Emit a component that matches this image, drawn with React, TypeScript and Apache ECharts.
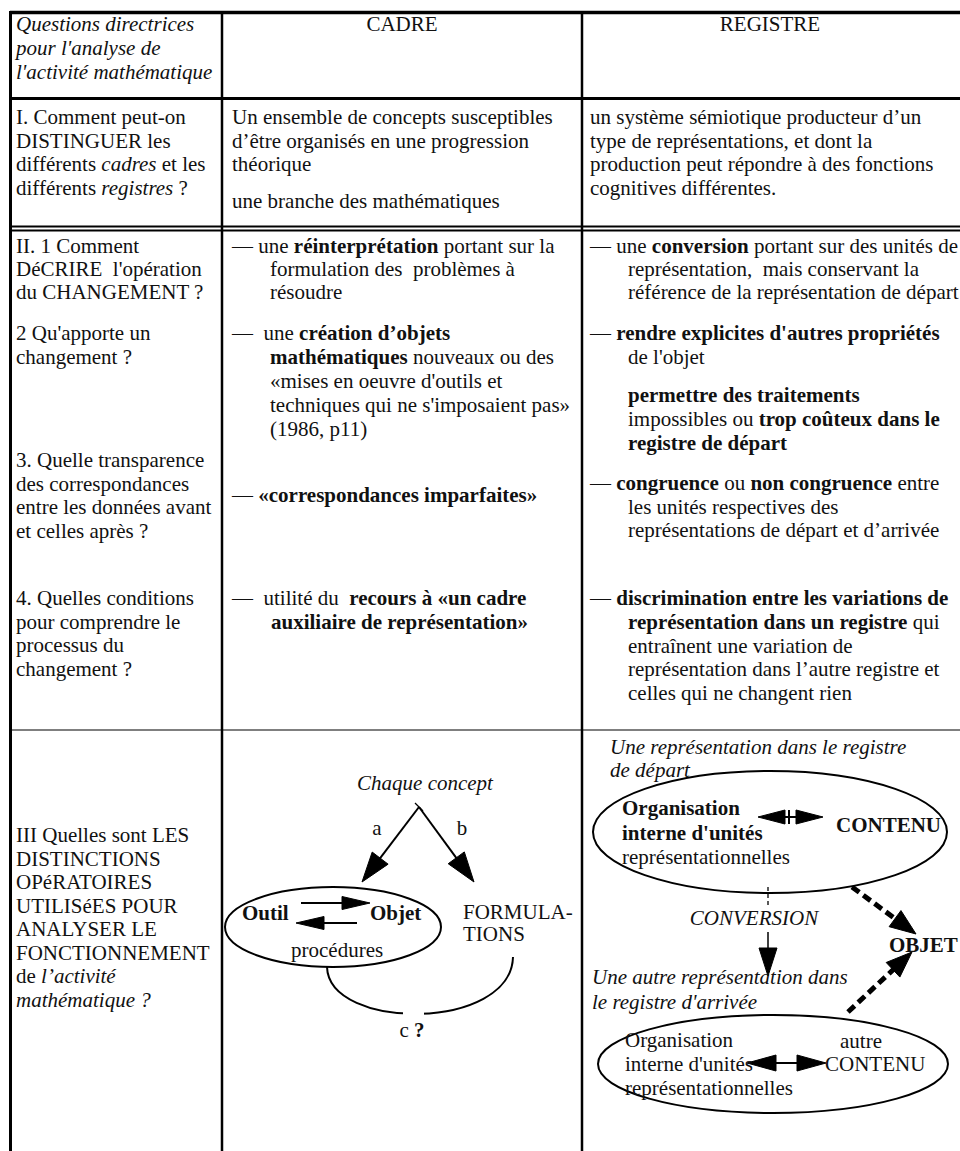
import React, { useEffect, useRef } from "react";
import * as echarts from "echarts";

type Seg = [string, string];

const FONT = '"Liberation Serif", "Times New Roman", serif';
const INK = "#111";
const FS = 21;

// ---------- texts ----------
const headerQuestion: string[] = ["Questions directrices", "pour l'analyse de", "l'activité mathématique"];
const columnTitles: string[] = ["CADRE", "REGISTRE"];

const rowIQuestion: Seg[][] = [
  [["n", "I. Comment peut-on"]],
  [["n", "DISTINGUER les"]],
  [["n", "différents "], ["i", "cadres"], ["n", " et les"]],
  [["n", "différents "], ["i", "registres"], ["n", " ?"]],
];
const rowICadre: string[] = [
  "Un ensemble de concepts susceptibles",
  "d’être organisés en une progression",
  "théorique",
  "une branche des mathématiques",
];
const rowIRegistre: string[] = [
  "un système sémiotique producteur d’un",
  "type de représentations, et dont la",
  "production peut répondre à des fonctions",
  "cognitives différentes.",
];

const rowIIQuestion: string[] = [
  "II. 1 Comment",
  "DéCRIRE  l'opération",
  "du CHANGEMENT ?",
  "2 Qu'apporte un",
  "changement ?",
  "3. Quelle transparence",
  "des correspondances",
  "entre les données avant",
  "et celles après ?",
  "4. Quelles conditions",
  "pour comprendre le",
  "processus du",
  "changement ?",
];
const rowIICadre: Seg[][] = [
  [["n", "— une "], ["b", "réinterprétation"], ["n", " portant sur la"]],
  [["n", "formulation des  problèmes à"]],
  [["n", "résoudre"]],
  [["n", "—  une "], ["b", "création d’objets"]],
  [["b", "mathématiques"], ["n", " nouveaux ou des"]],
  [["n", "«mises en oeuvre d'outils et"]],
  [["n", "techniques qui ne s'imposaient pas»"]],
  [["n", "(1986, p11)"]],
  [["n", "— "], ["b", "«correspondances imparfaites»"]],
  [["n", "—  utilité du  "], ["b", "recours à «un cadre"]],
  [["b", "auxiliaire de représentation»"]],
];
const rowIIRegistre: Seg[][] = [
  [["n", "— une "], ["b", "conversion"], ["n", " portant sur des unités de"]],
  [["n", "représentation,  mais conservant la"]],
  [["n", "référence de la représentation de départ"]],
  [["n", "— "], ["b", "rendre explicites d'autres propriétés"]],
  [["n", "de l'objet"]],
  [["b", "permettre des traitements"]],
  [["n", "impossibles ou "], ["b", "trop coûteux dans le"]],
  [["b", "registre de départ"]],
  [["n", "— "], ["b", "congruence"], ["n", " ou "], ["b", "non congruence"], ["n", " entre"]],
  [["n", "les unités respectives des"]],
  [["n", "représentations de départ et d’arrivée"]],
  [["n", "— "], ["b", "discrimination entre les variations de"]],
  [["b", "représentation dans un registre"], ["n", " qui"]],
  [["n", "entraînent une variation de"]],
  [["n", "représentation dans l’autre registre et"]],
  [["n", "celles qui ne changent rien"]],
];

const rowIIIQuestion: Seg[][] = [
  [["n", "III Quelles sont LES"]],
  [["n", "DISTINCTIONS"]],
  [["n", "OPéRATOIRES"]],
  [["n", "UTILISéES POUR"]],
  [["n", "ANALYSER LE"]],
  [["n", "FONCTIONNEMENT"]],
  [["n", "de "], ["i", "l’activité"]],
  [["i", "mathématique ?"]],
];

const cadreDiagram = {
  top: "Chaque concept",
  a: "a",
  b: "b",
  tool: "Outil",
  object: "Objet",
  procedures: "procédures",
  formulations: ["FORMULA-", "TIONS"],
  c: "c",
  q: "?",
};
const registreDiagram = {
  start: ["Une représentation dans le registre", "de départ"],
  org1: [[["b", "Organisation"]], [["b", "interne d'unités"]], [["n", "représentationnelles"]]] as Seg[][],
  content1: "CONTENU",
  conversion: "CONVERSION",
  object: "OBJET",
  arrival: ["Une autre représentation dans", "le registre d'arrivée"],
  org2: ["Organisation", "interne d'unités", "représentationnelles"],
  content2: ["autre", "CONTENU"],
};

// ---------- drawing helpers ----------
function richFor(lh: number) {
  return {
    n: { fontFamily: FONT, fontSize: FS, fill: INK, lineHeight: lh },
    b: { fontFamily: FONT, fontSize: FS, fill: INK, fontWeight: "bold", lineHeight: lh },
    i: { fontFamily: FONT, fontSize: FS, fill: INK, fontStyle: "italic", lineHeight: lh },
  };
}

const toRich = (segs: Seg[]) => segs.map(([s, t]) => `{${s}|${t}}`).join("");
const plain = (t: string, s = "n"): Seg[] => [[s, t]];

function txt(x: number, y: number, segs: Seg[], align = "left", lh = 22) {
  return {
    type: "text",
    x,
    y,
    z: 10,
    style: {
      text: toRich(segs),
      rich: richFor(lh),
      fontFamily: FONT,
      fontSize: FS,
      fill: INK,
      align,
      verticalAlign: "middle",
    },
  };
}

function block(x: number, ys: number[], lines: Seg[][], xs?: number[], lh = 22) {
  return lines.map((l, k) => txt(xs ? xs[k] : x, ys[k], l, "left", lh));
}

function line(x1: number, y1: number, x2: number, y2: number, lw = 2, stroke = "#000", dash?: number[]) {
  return {
    type: "line",
    z: 5,
    shape: { x1, y1, x2, y2 },
    style: { stroke, lineWidth: lw, lineDash: dash, fill: "none" },
  };
}

function head(x1: number, y1: number, x2: number, y2: number, len: number, half: number) {
  const dx = x2 - x1;
  const dy = y2 - y1;
  const d = Math.hypot(dx, dy);
  const ux = dx / d;
  const uy = dy / d;
  const bx = x2 - ux * len;
  const by = y2 - uy * len;
  return {
    type: "polygon",
    z: 6,
    shape: { points: [[x2, y2], [bx - uy * half, by + ux * half], [bx + uy * half, by - ux * half]] },
    style: { fill: "#000", stroke: "#000", lineWidth: 1 },
    base: [bx, by],
  };
}

function arrow(x1: number, y1: number, x2: number, y2: number, len: number, half: number, lw = 2, dash?: number[]) {
  const h: any = head(x1, y1, x2, y2, len, half);
  const [bx, by] = h.base;
  delete h.base;
  return [line(x1, y1, bx + (x2 - x1) * 0.02, by + (y2 - y1) * 0.02, lw, "#000", dash), h];
}

function dblArrow(x1: number, y: number, x2: number, len: number, half: number) {
  const h1: any = head(x2, y, x1, y, len, half);
  const h2: any = head(x1, y, x2, y, len, half);
  delete h1.base;
  delete h2.base;
  return [line(x1 + len - 2, y, x2 - len + 2, y, 2), h1, h2];
}

function ellipse(cx: number, cy: number, rx: number, ry: number) {
  return {
    type: "ellipse",
    z: 4,
    shape: { cx, cy, rx, ry },
    style: { fill: "none", stroke: "#000", lineWidth: 2 },
  };
}

function buildElements() {
  const els: any[] = [];
  // ----- table rules -----
  const H = 1151;
  els.push(line(10, 12.5, 960, 12.5, 3.5));
  els.push(line(10, 98.5, 960, 98.5, 3));
  els.push(line(10, 226.5, 960, 226.5, 1.8));
  els.push(line(10, 230.5, 960, 230.5, 1.8));
  els.push(line(10, 730, 960, 730, 1.6, "#555"));
  els.push(line(10.5, 11, 10.5, H, 3));
  els.push(line(222, 11, 222, H, 2.5));
  els.push(line(582, 11, 582, H, 2.5));

  // ----- header -----
  els.push(...block(16, [24, 48, 72], headerQuestion.map((t) => plain(t, "i"))));
  els.push(txt(402, 24, plain(columnTitles[0]), "center"));
  els.push(txt(770, 24, plain(columnTitles[1]), "center"));

  // ----- row I -----
  const r1 = [117, 140.5, 164, 187.5];
  els.push(...block(16, r1, rowIQuestion));
  els.push(...block(232, [117, 140.5, 164, 201], rowICadre.map((t) => plain(t))));
  els.push(...block(590, r1, rowIRegistre.map((t) => plain(t))));

  // ----- row II -----
  els.push(
    ...block(
      16,
      [246, 269, 292, 333, 357, 460, 483.5, 507, 531, 598, 621.5, 645, 668.5],
      rowIIQuestion.map((t) => plain(t))
    )
  );
  els.push(
    ...block(
      0,
      [246, 269, 292, 333, 357, 381, 405, 429, 495, 598, 622],
      rowIICadre,
      [232, 270, 270, 232, 270, 270, 270, 270, 232, 232, 271]
    )
  );
  els.push(
    ...block(
      0,
      [246, 269, 292, 333, 357, 395, 419, 443, 483, 506.5, 530, 598, 622, 645.5, 669, 692.5],
      rowIIRegistre,
      [590, 628, 628, 590, 628, 628, 628, 628, 590, 628, 628, 590, 628, 628, 628, 628]
    )
  );

  // ----- row III question -----
  els.push(...block(16, [835, 858.5, 882, 905.5, 929, 952.5, 976, 999.5], rowIIIQuestion));

  // ----- cadre diagram -----
  const cd = cadreDiagram;
  els.push(txt(425, 783, plain(cd.top, "i"), "center"));
  els.push(...arrow(419, 807, 362, 882, 30, 10, 2));
  els.push(...arrow(419, 807, 474, 882, 30, 10, 2));
  els.push(line(415, 803, 423, 811, 1.2));
  els.push(txt(377, 828, plain(cd.a), "center"));
  els.push(txt(462, 828, plain(cd.b), "center"));
  els.push(ellipse(333, 927, 108, 40));
  els.push(txt(242, 913, plain(cd.tool, "b")));
  els.push(txt(370, 913, plain(cd.object, "b")));
  els.push(...arrow(301, 903, 370, 903, 28, 6.5, 2));
  els.push(...arrow(357, 923, 296, 923, 28, 6.5, 2));
  els.push(txt(291, 950, plain(cd.procedures)));
  els.push(txt(463, 912, plain(cd.formulations[0]), "left", 19));
  els.push(txt(463, 934, plain(cd.formulations[1]), "left", 19));
  els.push({
    type: "bezierCurve",
    z: 4,
    shape: { x1: 327, y1: 967, cpx1: 329, cpy1: 1031, cpx2: 511, cpy2: 1031, x2: 513, y2: 957 },
    style: { fill: "none", stroke: "#000", lineWidth: 2 },
  });
  els.push({ type: "rect", z: 5, shape: { x: 403, y: 1006, width: 21, height: 14 }, style: { fill: "#fff" } });
  els.push(txt(412, 1030, [["n", cd.c + " "], ["b", cd.q]], "center"));

  // ----- registre diagram -----
  const rd = registreDiagram;
  els.push(...block(610, [747, 770], rd.start.map((t) => plain(t, "i"))));
  els.push(ellipse(770, 832, 177, 61));
  els.push(...block(622, [808, 833, 857], rd.org1));
  els.push(...dblArrow(758, 817, 823, 27, 7));
  els.push(line(789, 810, 789, 824, 2));
  els.push(txt(836, 825, plain(rd.content1, "b")));
  els.push(line(768, 887, 768, 906, 1.3, "#000", [4, 3]));
  els.push(txt(754, 918, plain(rd.conversion, "i"), "center"));
  els.push(...arrow(768, 932, 768, 976, 28, 9, 1.5));
  els.push(...arrow(852, 887, 916, 934, 26, 10, 5, [9, 5]));
  els.push(...arrow(848, 1012, 912, 952, 26, 10, 5, [9, 5]));
  els.push(txt(889, 945, plain(rd.object, "b")));
  els.push(...block(592, [977, 1002], rd.arrival.map((t) => plain(t, "i"))));
  els.push(ellipse(773, 1064, 175, 49));
  els.push(...block(625, [1040, 1063.5, 1088], rd.org2.map((t) => plain(t))));
  els.push(txt(861, 1041, plain(rd.content2[0]), "center", 19));
  els.push(txt(825, 1063.5, plain(rd.content2[1]), "left", 19));
  els.push(...dblArrow(747, 1063, 826, 29, 8));
  return els;
}

export default function App() {
  const ref = useRef<HTMLDivElement>(null);
  useEffect(() => {
    if (!ref.current) return;
    const chart = echarts.init(ref.current, null, { renderer: "svg" });
    chart.setOption({
      animation: false,
      backgroundColor: "#fff",
      graphic: { elements: buildElements() },
    });
    return () => chart.dispose();
  }, []);
  return (
    <div
      ref={ref}
      style={{ position: "absolute", left: 0, top: 0, width: 960, height: 1151, background: "#fff" }}
    />
  );
}
